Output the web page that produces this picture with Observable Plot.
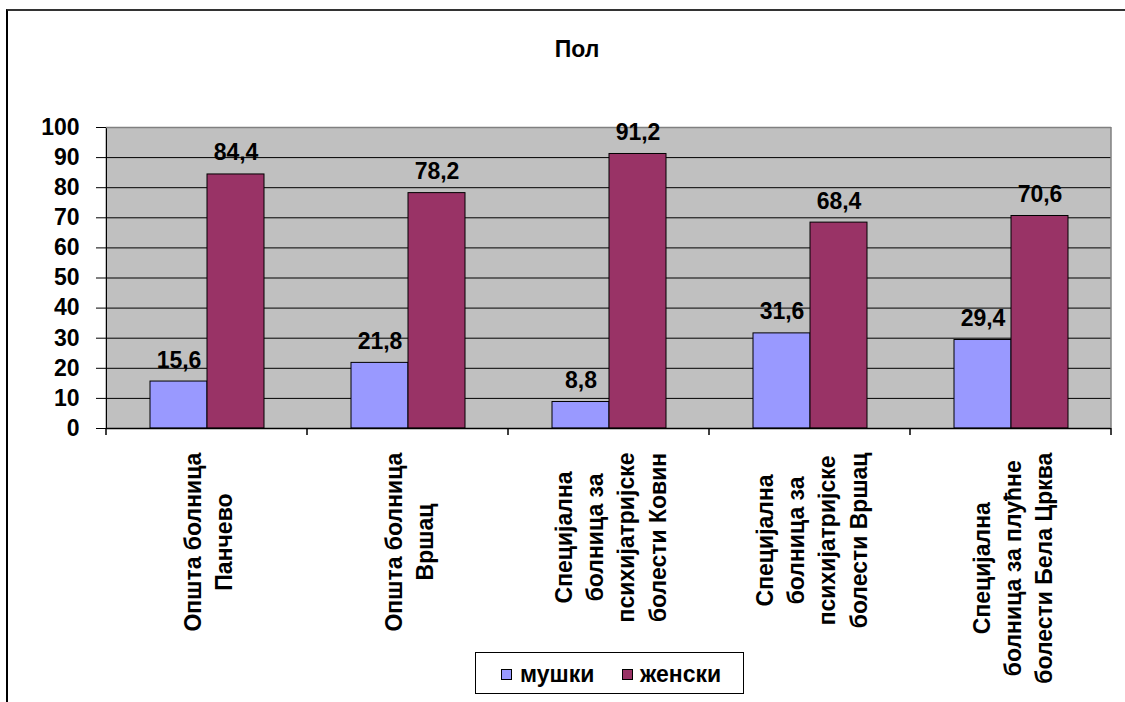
<!DOCTYPE html>
<html><head><meta charset="utf-8">
<script src="https://cdn.jsdelivr.net/npm/d3@7"></script>
<script src="https://cdn.jsdelivr.net/npm/@observablehq/plot@0.6"></script>
<style>
html,body{margin:0;padding:0;background:#fff;overflow:hidden}
#page{position:relative;width:1125px;height:702px;overflow:hidden;font-family:Arial,"Liberation Sans",sans-serif}
#frame{position:absolute;left:6px;top:9px;width:1160px;height:740px;border-top:2px solid #333;border-left:2px solid #000;box-sizing:border-box}
#title{position:absolute;left:6px;width:1142px;top:38px;line-height:1;text-align:center;font-weight:bold;font-size:23px;color:#000}
#chart{position:absolute;left:0;top:100px}
#legend{position:absolute;left:475px;top:652px;width:269px;height:42px;border:1px solid #000;box-sizing:border-box;background:#fff}
#legend .sw{position:absolute;width:11px;height:11px;border:1px solid #000;box-sizing:border-box;top:16px}
#legend .lb{position:absolute;top:10px;font-weight:bold;font-size:23px;line-height:1;color:#000}
</style></head>
<body>
<div id="page">
<div id="frame"></div>
<div id="title"></div>
<div id="chart"></div>
<div id="legend"></div>
</div>
<script>
const title = "Пол";
const categories = [
  "Општа болница\nПанчево",
  "Општа болница\nВршац",
  "Специјална\nболница за\nпсихијатријске\nболести Ковин",
  "Специјална\nболница за\nпсихијатријске\nболести Вршац",
  "Специјална\nболница за плућне\nболести Бела Црква"
];
const series = ["мушки", "женски"];
const maleValues = [15.6, 21.8, 8.8, 31.6, 29.4];
const femaleValues = [84.4, 78.2, 91.2, 68.4, 70.6];
const yTicks = [0, 10, 20, 30, 40, 50, 60, 70, 80, 90, 100];
const colors = ["#9999FF", "#993366"];

const rows = [];
categories.forEach((c, i) => {
  rows.push({category: c, sex: series[0], value: maleValues[i]});
  rows.push({category: c, sex: series[1], value: femaleValues[i]});
});
const fmt = v => v.toFixed(1).replace(".", ",");
const font = 'Arial, "Liberation Sans", sans-serif';

document.getElementById("title").textContent = title;

const chart = Plot.plot({
  width: 1125, height: 602,
  marginLeft: 105, marginRight: 14, marginTop: 27, marginBottom: 274,
  fx: {domain: categories, padding: 0, axis: null},
  x: {domain: series, paddingInner: 0, paddingOuter: 0.75, axis: null},
  y: {domain: [0, 100], ticks: yTicks, tickSize: 10, tickPadding: 17, line: true, label: null},
  color: {domain: series, range: colors},
  style: {fontFamily: font, fontSize: "23px", fontWeight: "bold", color: "#000", background: "transparent", overflow: "visible"},
  marks: [
    Plot.gridY(yTicks.filter(d => d > 0 && d < 100), {stroke: "#000", strokeOpacity: 1}),
    Plot.ruleY([100], {stroke: "#808080", strokeWidth: 1.5}),
    Plot.barY(rows, {fx: "category", x: "sex", y: "value", fill: "sex", stroke: "#000", strokeWidth: 1}),
    Plot.ruleY([0], {stroke: "#000", strokeWidth: 1.5}),
    Plot.text(rows, {fx: "category", x: "sex", y: "value", text: d => fmt(d.value), lineAnchor: "bottom", dy: -14, fill: "#000"}),
    Plot.text(categories, {fx: d => d, text: d => d, frameAnchor: "bottom", rotate: -90, textAnchor: "middle", lineAnchor: "middle", lineHeight: 1.35, dy: 24, fill: "#000", className: "cat-label"})
  ]
});
document.getElementById("chart").appendChild(chart);

// center multi-line category labels under a common top edge
d3.select(chart).selectAll("g.cat-label text").each(function () {
  const w = this.getBBox().width;
  const t = this.getAttribute("transform") || "";
  this.setAttribute("transform", t + ` translate(${-w / 2},0)`);
});

// plot-area background, category boundary ticks and border from the library scales
const fx = chart.scale("fx");
const y = chart.scale("y");
const y0 = y.apply(0), y100 = y.apply(100);
const xStart = fx.range[0], xEnd = fx.range[1];
const svg = d3.select(chart);
const firstG = chart.querySelector("g");
svg.insert("rect", () => firstG)
  .attr("x", xStart).attr("y", y100).attr("width", xEnd - xStart).attr("height", y0 - y100)
  .attr("fill", "#C0C0C0");
const bounds = categories.map(c => fx.apply(c)).concat([xEnd]);
const g = svg.append("g");
g.selectAll("line.tk").data(bounds).join("line")
  .attr("x1", d => d).attr("x2", d => d).attr("y1", y0).attr("y2", y0 + 7)
  .attr("stroke", "#000").attr("stroke-width", 1.5);
g.append("line").attr("x1", xEnd).attr("x2", xEnd).attr("y1", y100).attr("y2", y0)
  .attr("stroke", "#808080").attr("stroke-width", 1.5);

// legend
const legend = document.getElementById("legend");
const swX = [25, 146], lbX = [44, 164];
series.forEach((s, i) => {
  const sw = document.createElement("div");
  sw.className = "sw"; sw.style.left = swX[i] + "px"; sw.style.background = colors[i];
  const lb = document.createElement("div");
  lb.className = "lb"; lb.style.left = lbX[i] + "px"; lb.textContent = s;
  legend.appendChild(sw); legend.appendChild(lb);
});
</script>
</body></html>
